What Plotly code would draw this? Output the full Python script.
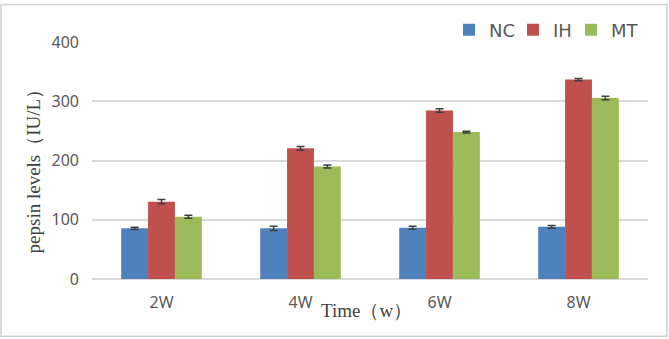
import plotly.graph_objects as go

categories = ["2W", "4W", "6W", "8W"]
nc = [85.5, 85.5, 86.5, 88]
ih = [130.5, 220.5, 284.5, 336.5]
mt = [105, 190, 248, 305.5]
nc_err = [2, 3.5, 2.5, 2.5]
ih_err = [3.5, 3, 3, 2]
mt_err = [2.5, 2.5, 1.5, 3]

series = [("NC", nc, nc_err, "#4F81BD", "legend"),
          ("IH", ih, ih_err, "#C0504D", "legend2"),
          ("MT", mt, mt_err, "#9BBB59", "legend3")]

fig = go.Figure()
for name, vals, errs, col, lg in series:
    fig.add_trace(go.Bar(
        x=categories, y=vals, name=name, legend=lg, marker=dict(color=col, line=dict(width=0)),
        error_y=dict(type="data", array=errs, visible=True, color="#404040", thickness=1.5, width=4),
    ))

L, R, T, B = 92, 21, 39, 60
W, H = 669, 339
pw, ph = W - L - R, H - T - B

def leg(square_left):
    return dict(orientation="h", x=(square_left - 14 - L) / pw, xanchor="left",
                y=1 + 12 / ph, yanchor="middle",
                font=dict(family="DejaVu Sans, Noto Sans, sans-serif", size=18, color="#595959"),
                itemwidth=30, bgcolor="rgba(0,0,0,0)")

fig.update_layout(
    width=W, height=H, margin=dict(l=L, r=R, t=T, b=B),
    paper_bgcolor="white", plot_bgcolor="white",
    barmode="group", bargap=0.42, bargroupgap=0,
    showlegend=True,
    legend=leg(463), legend2=leg(527), legend3=leg(585),
    font=dict(family="Noto Sans, sans-serif", color="#595959"),
    xaxis=dict(showline=False, showgrid=False, ticks="", tickfont=dict(size=16, color="#595959"),
               ticklabelstandoff=12),
    yaxis=dict(range=[0, 400], dtick=100, showgrid=True, gridcolor="#D9D9D9", gridwidth=1.5,
               zeroline=True, zerolinecolor="#D9D9D9", zerolinewidth=1.5, showline=False,
               ticks="", tickfont=dict(size=16, color="#595959"), ticklabelstandoff=12),
    shapes=[dict(type="rect", xref="paper", yref="paper",
                 x0=(1 - L) / pw, x1=(W - 2 - L) / pw, y0=-(B - 2) / ph, y1=1 + (T - 1) / ph,
                 line=dict(color="#D0D0D0", width=1.5))],
    annotations=[
        dict(text="Time（w）", xref="paper", yref="paper", x=(366 - L) / pw, y=-(311 - T - ph) / ph,
             xanchor="center", yanchor="middle", showarrow=False,
             font=dict(family="Liberation Serif, Times New Roman, serif", size=19, color="#404040")),
        dict(text="pepsin levels（IU/L）", xref="paper", yref="paper", x=(33 - L) / pw,
             y=1 - (165 - T) / ph, xanchor="center", yanchor="middle", textangle=-90, showarrow=False,
             font=dict(family="Liberation Serif, Times New Roman, serif", size=19, color="#404040")),
    ],
)

fig.write_html("out.html")
